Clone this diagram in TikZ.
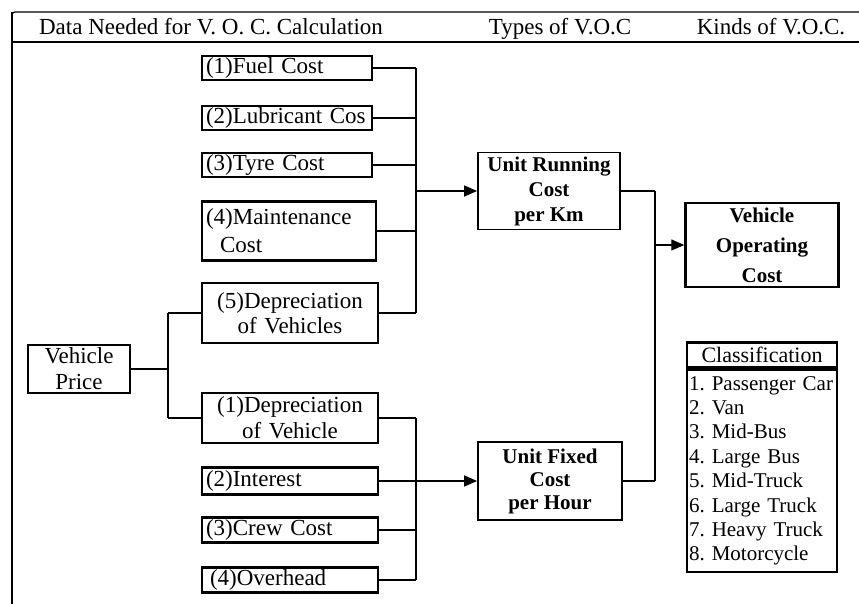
\documentclass[tikz,border=0pt]{standalone}
\usepackage{fontspec}
\setmainfont{Liberation Serif}
\usetikzlibrary{arrows.meta}
\frenchspacing

\tikzset{
  box/.style={draw, line width=2.3pt, inner xsep=4pt, inner ysep=0pt, font=\fontsize{23}{26}\selectfont},
  vocbox/.style={draw, line width=1.8pt, inner sep=0pt, align=center, font=\bfseries\fontsize{21}{25}\selectfont},
  link/.style={line width=1.3pt},
  bus/.style={line width=2.2pt},
  feed/.style={line width=1.3pt, -{Triangle[length=13pt,width=11pt]}},
  head/.style={font=\fontsize{23}{25}\selectfont, anchor=base}
}

\begin{document}
\begin{tikzpicture}[x=1pt,y=-1pt]
  \useasboundingbox (0,0) rectangle (859,604);
  \draw[line width=1.2pt, rounded corners=3pt] (12,42) -- (12,12) -- (859,12);
  \draw[line width=2pt] (12,42) -- (859,42);
  \draw[line width=2.5pt] (12,12) -- (12,604);
  \node[head] (hdata) at (211,35) {Data Needed for V. O. C. Calculation};
  \node[head] (htype) at (560,35) {Types of V.O.C};
  \node[head] (hkind) at (771,35) {Kinds of V.O.C.};

  \node[box, text width=162pt, minimum height=24pt, align=left] (fuel) at (287,68) {(1)Fuel Cost};
  \node[box, text width=162pt, minimum height=24pt, align=left] (lub) at (287,118) {(2)Lubricant Cos};
  \node[box, text width=162pt, minimum height=24pt, align=left] (tyre) at (287,165) {(3)Tyre Cost};
  \node[box, text width=166pt, minimum height=59pt, align=left, font=\fontsize{23}{28}\selectfont] (maint) at (289,231) {(4)Maintenance\\\hspace*{14pt}Cost};
  \node[box, text width=168pt, minimum height=60pt, align=center, font=\fontsize{23}{25}\selectfont] (dep5) at (290,313) {(5)Depreciation\\of Vehicles};
  \node[box, text width=94pt, minimum height=48pt, align=center] (vp) at (79,369) {Vehicle\\Price};
  \node[box, text width=168pt, minimum height=50pt, align=center] (dep1) at (290,418) {(1)Depreciation\\of Vehicle};
  \node[box, text width=168pt, minimum height=27pt, align=left] (int) at (290,481) {(2)Interest};
  \node[box, text width=168pt, minimum height=25pt, align=left] (crew) at (290,530) {(3)Crew Cost};
  \node[box, text width=168pt, minimum height=25pt, align=left] (over) at (290,580) {\hspace*{4pt}(4)Overhead};

  \node[vocbox, minimum width=142pt, minimum height=77pt] (running) at (549,191) {Unit Running\\Cost\\per Km};
  \node[vocbox, minimum width=144pt, minimum height=78pt, font=\bfseries\fontsize{21}{23}\selectfont] (fixed) at (550,481) {Unit Fixed\\Cost\\per Hour};
  \node[vocbox, line width=2.4pt, minimum width=153pt, minimum height=84pt, font=\bfseries\fontsize{21}{30}\selectfont] (voc) at (762,245) {Vehicle\\Operating\\Cost};

  \node[box, minimum width=150pt, minimum height=25pt, inner xsep=0pt, font=\fontsize{22}{24}\selectfont] (clhead) at (762,355) {Classification};
  \node[box, text width=146pt, inner xsep=2pt, inner ysep=3pt, minimum height=202pt, align=left, font=\fontsize{21}{24.4}\selectfont, anchor=north] (cllist) at (clhead.south) {1. Passenger Car\\2. Van\\3. Mid-Bus\\4. Large Bus\\5. Mid-Truck\\6. Large Truck\\7. Heavy Truck\\8. Motorcycle};

  \coordinate (busA) at (416,0);
  \coordinate (busC) at (655,0);
  \coordinate (forkV) at (168,0);

  \foreach \n in {fuel,lub,tyre,maint,dep5,dep1,int,crew,over}
    \draw[link] (\n.east) -- (\n.east -| busA);
  \draw[bus] (fuel.east -| busA) -- (dep5.east -| busA);
  \draw[bus] (dep1.east -| busA) -- (over.east -| busA);
  \draw[feed] (busA |- running.west) -- (running.west);
  \draw[feed] (busA |- fixed.west) -- (fixed.west);

  \draw[bus] (vp.east) -- (vp.east -| forkV);
  \draw[bus] (dep5.west -| forkV) -- (dep1.west -| forkV);
  \draw[link] (dep5.west -| forkV) -- (dep5.west);
  \draw[link] (dep1.west -| forkV) -- (dep1.west);

  \draw[link] (running.east) -- (running.east -| busC);
  \draw[link] (fixed.east) -- (fixed.east -| busC);
  \draw[bus] (running.east -| busC) -- (fixed.east -| busC);
  \draw[feed] (busC |- voc.west) -- (voc.west);
\end{tikzpicture}
\end{document}
